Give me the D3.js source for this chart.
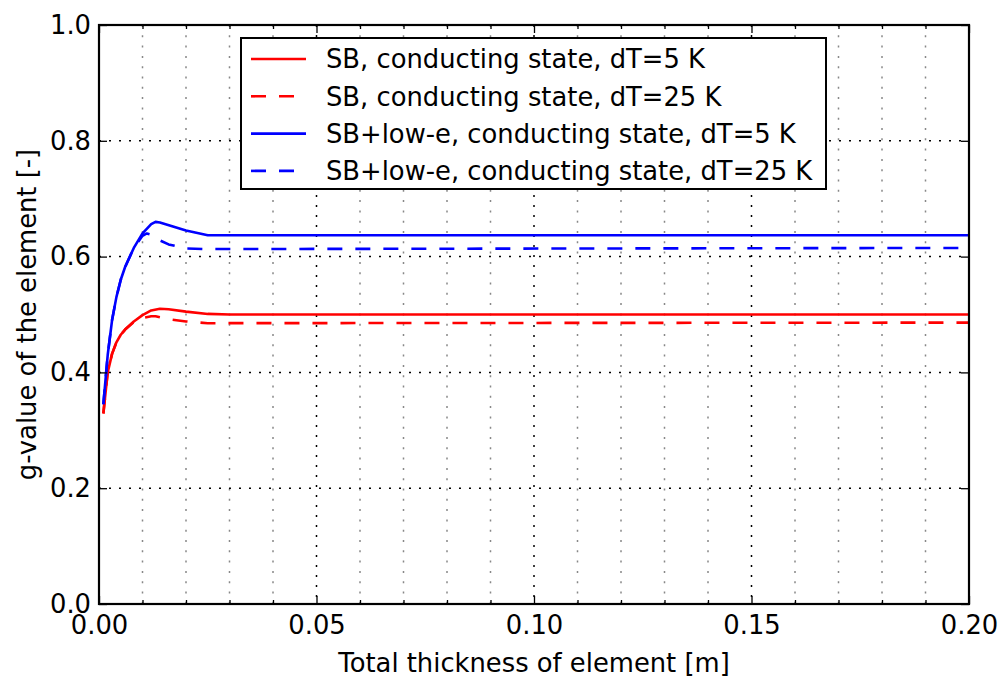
<!DOCTYPE html>
<html>
<head>
<meta charset="utf-8">
<script src="https://cdn.jsdelivr.net/npm/d3@7"></script>
<style>
html,body{margin:0;padding:0;background:#fff;}
svg{display:block;}
text{font-family:"DejaVu Sans",sans-serif;fill:#000;}
</style>
</head>
<body>
<svg id="chart" width="1004" height="677"></svg>
<script>
// ---- data ----
const xTicks = [0.00, 0.05, 0.10, 0.15, 0.20];
const xTickLabels = ["0.00", "0.05", "0.10", "0.15", "0.20"];
const yTicks = [0.0, 0.2, 0.4, 0.6, 0.8, 1.0];
const yTickLabels = ["0.0", "0.2", "0.4", "0.6", "0.8", "1.0"];

const sbX5  = [0.001, 0.002, 0.003, 0.004, 0.005, 0.006, 0.008, 0.010, 0.012, 0.014, 0.016, 0.020, 0.025, 0.030, 0.200];
const sbY5  = [0.329, 0.400, 0.432, 0.452, 0.465, 0.474, 0.488, 0.499, 0.507, 0.510, 0.509, 0.505, 0.501, 0.500, 0.500];

const sbX25 = [0.001, 0.002, 0.003, 0.004, 0.005, 0.006, 0.008, 0.010, 0.012, 0.013, 0.016, 0.020, 0.025, 0.200];
const sbY25 = [0.329, 0.400, 0.432, 0.452, 0.465, 0.474, 0.487, 0.494, 0.497, 0.497, 0.492, 0.488, 0.485, 0.486];

const leX5  = [0.001, 0.002, 0.003, 0.004, 0.005, 0.006, 0.008, 0.010, 0.012, 0.013, 0.014, 0.017, 0.020, 0.025, 0.200];
const leY5  = [0.345, 0.430, 0.490, 0.530, 0.560, 0.582, 0.615, 0.640, 0.656, 0.660, 0.659, 0.652, 0.645, 0.637, 0.637];

const leX25 = [0.001, 0.002, 0.003, 0.004, 0.005, 0.006, 0.008, 0.010, 0.011, 0.012, 0.014, 0.016, 0.020, 0.025, 0.200];
const leY25 = [0.345, 0.430, 0.490, 0.530, 0.560, 0.582, 0.615, 0.636, 0.640, 0.638, 0.628, 0.621, 0.614, 0.613, 0.615];

const seriesNames = [
  "SB, conducting state, dT=5 K",
  "SB, conducting state, dT=25 K",
  "SB+low-e, conducting state, dT=5 K",
  "SB+low-e, conducting state, dT=25 K"
];
const seriesColors = ["#ff0000", "#ff0000", "#0000ff", "#0000ff"];
const seriesDashed = [false, true, false, true];

const xLabel = "Total thickness of element [m]";
const yLabel = "g-value of the element [-]";

// ---- layout ----
const L = 99, R = 969, T = 25, B = 604;
const svg = d3.select("#chart");
const x = d3.scaleLinear().domain([0, 0.2]).range([L, R]);
const y = d3.scaleLinear().domain([0, 1]).range([B, T]);
const FS = 25.8;
const DASH = "15,13";
const LW = 2.6;

const minorX = d3.range(0, 21).map(d => d / 100).filter(d => Math.round(d * 100) % 5 !== 0);

// grid
const grid = svg.append("g");
grid.selectAll("line.minx").data(minorX).enter().append("line")
  .attr("x1", d => x(d)).attr("x2", d => x(d)).attr("y1", T).attr("y2", B)
  .attr("stroke", "#888").attr("stroke-width", 1.5).attr("stroke-dasharray", "2,8.3");
grid.selectAll("line.majx").data(xTicks.slice(1, -1)).enter().append("line")
  .attr("x1", d => x(d)).attr("x2", d => x(d)).attr("y1", T).attr("y2", B)
  .attr("stroke", "#000").attr("stroke-width", 1.5).attr("stroke-dasharray", "2,8");
grid.selectAll("line.majy").data(yTicks.slice(1, -1)).enter().append("line")
  .attr("y1", d => y(d)).attr("y2", d => y(d)).attr("x1", L).attr("x2", R)
  .attr("stroke", "#000").attr("stroke-width", 1.5).attr("stroke-dasharray", "2,8");

// series
svg.append("clipPath").attr("id", "clip").append("rect")
  .attr("x", L).attr("y", T).attr("width", R - L).attr("height", B - T);
const seriesX = [sbX5, sbX25, leX5, leX25];
const seriesY = [sbY5, sbY25, leY5, leY25];
const line = d3.line().x(d => x(d[0])).y(d => y(d[1]));
const plot = svg.append("g").attr("clip-path", "url(#clip)");
seriesX.forEach((xs, i) => {
  const pts = xs.map((v, j) => [v, seriesY[i][j]]);
  plot.append("path").datum(pts).attr("d", line)
    .attr("fill", "none").attr("stroke", seriesColors[i]).attr("stroke-width", LW)
    .attr("stroke-linejoin", "round")
    .attr("stroke-dasharray", seriesDashed[i] ? DASH : null);
});

// axes (ticks inside, all four sides)
const axB = d3.axisBottom(x).tickValues(xTicks).tickFormat((d, i) => xTickLabels[i]).tickSizeInner(-8).tickSizeOuter(0).tickPadding(12);
const axBm = d3.axisBottom(x).tickValues(minorX).tickFormat("").tickSizeInner(-4).tickSizeOuter(0);
const axT = d3.axisTop(x).tickValues(xTicks).tickFormat("").tickSizeInner(-8).tickSizeOuter(0);
const axTm = d3.axisTop(x).tickValues(minorX).tickFormat("").tickSizeInner(-4).tickSizeOuter(0);
const axL = d3.axisLeft(y).tickValues(yTicks).tickFormat((d, i) => yTickLabels[i]).tickSizeInner(-8).tickSizeOuter(0).tickPadding(8);
const axR = d3.axisRight(y).tickValues(yTicks).tickFormat("").tickSizeInner(-8).tickSizeOuter(0);

function styleAxis(g) {
  g.select(".domain").remove();
  g.selectAll(".tick line").attr("stroke", "#000").attr("stroke-width", 1.3);
  g.selectAll(".tick text").style("font-size", FS + "px").attr("fill", "#000");
}
svg.append("g").attr("transform", `translate(0,${B})`).call(axB).call(styleAxis);
svg.append("g").attr("transform", `translate(0,${B})`).call(axBm).call(styleAxis);
svg.append("g").attr("transform", `translate(0,${T})`).call(axT).call(styleAxis);
svg.append("g").attr("transform", `translate(0,${T})`).call(axTm).call(styleAxis);
svg.append("g").attr("transform", `translate(${L},0)`).call(axL).call(styleAxis);
svg.append("g").attr("transform", `translate(${R},0)`).call(axR).call(styleAxis);

// frame
svg.append("rect").attr("x", L).attr("y", T).attr("width", R - L).attr("height", B - T)
  .attr("fill", "none").attr("stroke", "#000").attr("stroke-width", 2.2);

// axis labels
svg.append("text").attr("x", (L + R) / 2).attr("y", 672).attr("text-anchor", "middle")
  .style("font-size", FS + "px").text(xLabel);
svg.append("text").attr("transform", `translate(36,${(T + B) / 2}) rotate(-90)`).attr("text-anchor", "middle")
  .style("font-size", FS + "px").text(yLabel);

// legend
const lg = svg.append("g");
lg.append("rect").attr("x", 241).attr("y", 38).attr("width", 585).attr("height", 151)
  .attr("fill", "#fff").attr("stroke", "#000").attr("stroke-width", 2);
seriesNames.forEach((name, i) => {
  const yy = 59 + i * 37.3;
  lg.append("line").attr("x1", 251).attr("x2", 306).attr("y1", yy).attr("y2", yy)
    .attr("stroke", seriesColors[i]).attr("stroke-width", LW)
    .attr("stroke-dasharray", seriesDashed[i] ? DASH : null);
  lg.append("text").attr("x", 326).attr("y", yy).attr("dy", "0.36em")
    .style("font-size", FS + "px").text(name);
});
</script>
</body>
</html>
